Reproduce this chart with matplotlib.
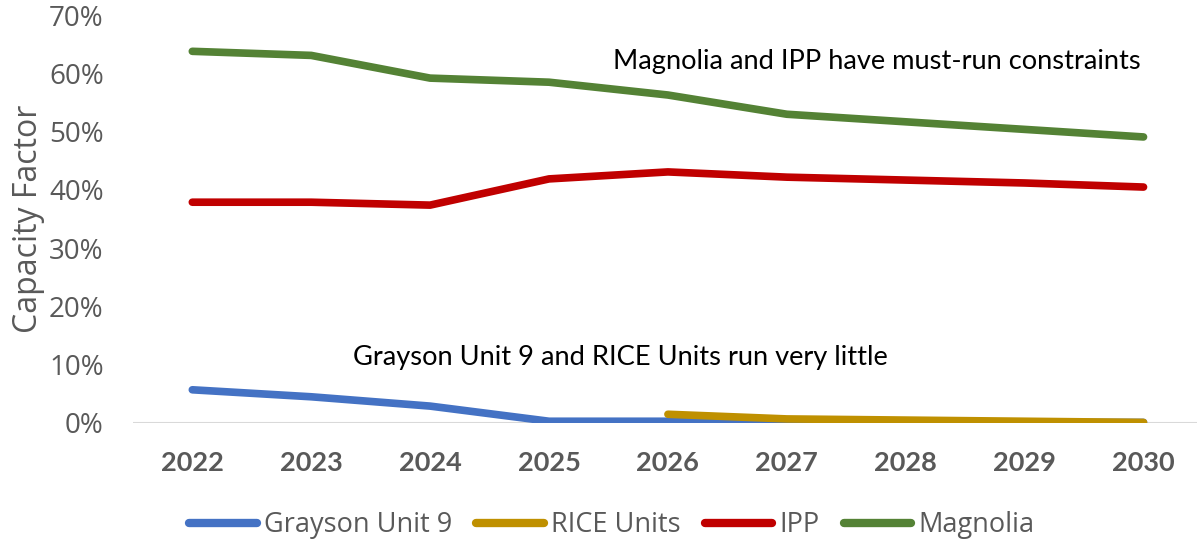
import matplotlib.pyplot as plt
from matplotlib.ticker import PercentFormatter

years = ['2022', '2023', '2024', '2025', '2026', '2027', '2028', '2029', '2030']
grayson = [0.057, 0.045, 0.029, 0.003, 0.003, 0.002, 0.002, 0.001, 0.001]
rice = [None, None, None, None, 0.015, 0.007, 0.005, 0.003, 0.001]
ipp = [0.379, 0.379, 0.374, 0.419, 0.431, 0.422, 0.417, 0.412, 0.405]
magnolia = [0.638, 0.631, 0.592, 0.585, 0.563, 0.530, 0.517, 0.504, 0.491]

grey = '#595959'
narrow = ['Lato', 'DejaVu Sans']

fig = plt.figure(figsize=(11.97, 5.43), dpi=100)
ax = fig.add_axes([0.111, 0.221, 0.894, 0.751])

x = list(range(len(years)))
ax.axhline(0, color='#D9D9D9', lw=1.5, zorder=1)
ax.plot(x, grayson, color='#4472C4', lw=5.5, solid_capstyle='round', label='Grayson Unit 9')
rx = [i for i, v in enumerate(rice) if v is not None]
ax.plot(rx, [rice[i] for i in rx], color='#BF9000', lw=5.5, solid_capstyle='round', label='RICE Units')
ax.plot(x, ipp, color='#C00000', lw=5.5, solid_capstyle='round', label='IPP')
ax.plot(x, magnolia, color='#548235', lw=5.5, solid_capstyle='round', label='Magnolia')

ax.set_xlim(-0.5, len(years) - 0.5)
ax.set_ylim(0, 0.7)
ax.set_yticks([i / 10 for i in range(8)])
ax.yaxis.set_major_formatter(PercentFormatter(1.0, decimals=0))
ax.set_xticks(x)
ax.set_xticklabels(years, family=narrow, fontweight='bold', fontsize=19.5, color=grey)
for lab in ax.get_yticklabels():
    lab.set_family('Open Sans')
    lab.set_fontsize(20)
    lab.set_color(grey)
ax.tick_params(axis='both', length=0)
ax.tick_params(axis='x', pad=20)
ax.tick_params(axis='y', pad=21)
for s in ax.spines.values():
    s.set_visible(False)

ax.set_ylabel('Capacity Factor', family='Open Sans', fontsize=23, color=grey, labelpad=3)

ax.text(7.98, 0.62, 'Magnolia and IPP have must-run constraints', family=narrow,
        fontsize=19.6, ha='right', va='center', color='black')
ax.text(3.6, 0.113, 'Grayson Unit 9 and RICE Units run very little', family=narrow,
        fontsize=19.6, ha='center', va='center', color='black')

leg = fig.legend(loc='center', bbox_to_anchor=(0.511, 0.033), ncol=4, frameon=False,
                 prop={'family': 'Open Sans', 'size': 19.5}, handlelength=2.5,
                 handletextpad=0.25, columnspacing=0.9)
for t in leg.get_texts():
    t.set_color(grey)
for h in leg.get_lines():
    h.set_linewidth(6)

fig.savefig('out.png', dpi=100)
